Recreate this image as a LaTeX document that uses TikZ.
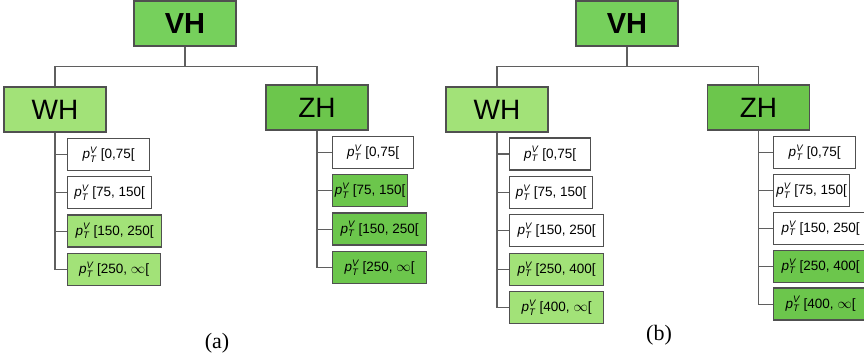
\documentclass[tikz,border=0pt]{standalone}
\usepackage{amsmath}
\usepackage{fontspec}
\setmainfont{Liberation Serif}
\newfontfamily\hv{Liberation Sans}
\usetikzlibrary{positioning}
\definecolor{vhgreen}{RGB}{118,208,92}
\definecolor{whgreen}{RGB}{162,226,120}
\definecolor{zhgreen}{RGB}{108,198,76}
\definecolor{boxline}{RGB}{80,80,80}
\definecolor{wiregray}{RGB}{95,95,95}
\newcommand{\ptv}{$\textit{p}^{\textit{V}}_{\textit{T}}$}
\tikzset{
  proc/.style={draw=boxline,line width=1.3pt,minimum width=102pt,minimum height=45pt,inner sep=0pt,font=\hv\fontsize{28}{30}\selectfont},
  binbox/.style={draw=boxline,line width=1.3pt,minimum height=32pt,inner sep=0pt,anchor=west,font=\hv\fontsize{13.5}{15}\selectfont},
  wire/.style={draw=wiregray,line width=1.2pt},
  topfont/.style={font=\hv\bfseries\fontsize{29}{31}\selectfont}
}

\begin{document}
\begin{tikzpicture}[x=1pt,y=-1pt]
\useasboundingbox (0,0) rectangle (864,362);
% (a)
\node[proc,fill=vhgreen,topfont] (a-vh) at (185,23.5) {VH};
\node[proc,fill=whgreen] (a-wh) at (55,109.5) {WH};
\node[proc,fill=zhgreen] (a-zh) at (317,107.5) {ZH};
\draw[wire] (a-vh.south) -- ++(0,20) -| (a-wh.north);
\draw[wire] (a-vh.south) -- ++(0,20) -| (a-zh.north);
\foreach \lbl/\w/\c [count=\i] in {{[0,75[}/82/white,{[75, 150[}/84/white,{[150, 250[}/94/whgreen,{[250, $\infty$[}/93/whgreen}{
  \node[binbox,fill=\c,minimum width=\w pt] (a-wh\i) at (67,116.2+38.3*\i) {\ptv\ \lbl};
  \draw[wire] (a-wh.south) |- (a-wh\i.west);
}
\foreach \lbl/\w/\c [count=\i] in {{[0,75[}/81/white,{[75, 150[}/75/zhgreen,{[150, 250[}/94/zhgreen,{[250, $\infty$[}/94/zhgreen}{
  \node[binbox,fill=\c,minimum width=\w pt] (a-zh\i) at (332,114.2+38.3*\i) {\ptv\ \lbl};
  \draw[wire] (a-zh.south) |- (a-zh\i.west);
}
\node[font=\fontsize{22}{24}\selectfont] (a-cap) at (217,343) {(a)};
% (b)
\node[proc,fill=vhgreen,topfont] (b-vh) at (627,23.5) {VH};
\node[proc,fill=whgreen] (b-wh) at (497,109.5) {WH};
\node[proc,fill=zhgreen] (b-zh) at (758.5,107.5) {ZH};
\draw[wire] (b-vh.south) -- ++(0,20) -| (b-wh.north);
\draw[wire] (b-vh.south) -- ++(0,20) -| (b-zh.north);
\foreach \lbl/\w/\c [count=\i] in {{[0,75[}/81/white,{[75, 150[}/83/white,{[150, 250[}/94/white,{[250, 400[}/94/whgreen,{[400, $\infty$[}/94/whgreen}{
  \node[binbox,fill=\c,minimum width=\w pt] (b-wh\i) at (509,115.6+38.4*\i) {\ptv\ \lbl};
  \draw[wire] (b-wh.south) |- (b-wh\i.west);
}
\foreach \lbl/\w/\c [count=\i] in {{[0,75[}/82/white,{[75, 150[}/76/white,{[150, 250[}/94/white,{[250, 400[}/94/zhgreen,{[400, $\infty$[}/94/zhgreen}{
  \node[binbox,fill=\c,minimum width=\w pt] (b-zh\i) at (773,114.6+37.9*\i) {\ptv\ \lbl};
  \draw[wire] (b-zh.south) |- (b-zh\i.west);
}
\node[font=\fontsize{22}{24}\selectfont] (b-cap) at (659,335) {(b)};
\end{tikzpicture}
\end{document}
